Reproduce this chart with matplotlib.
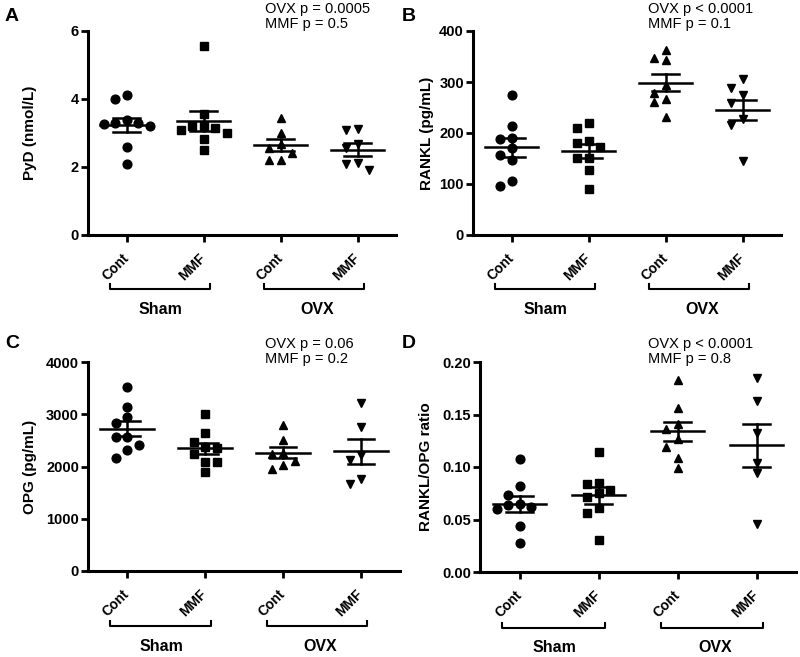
import numpy as np
import matplotlib
matplotlib.use("Agg")
import matplotlib.pyplot as plt
from matplotlib.transforms import blended_transform_factory

plt.rcParams['font.family'] = ['Liberation Sans', 'DejaVu Sans']

groups = ["Cont", "MMF", "Cont", "MMF"]
treatments = ["Sham", "OVX"]
markers = ["o", "s", "^", "v"]

pyd = [
    [4.12, 3.99, 3.38, 3.28, 3.28, 3.22, 3.25, 2.60, 2.09],
    [5.56, 3.56, 3.22, 3.20, 3.09, 2.99, 3.15, 2.82, 2.50],
    [3.43, 2.99, 2.68, 2.55, 2.42, 2.22, 2.22],
    [3.09, 3.11, 2.68, 2.55, 2.10, 1.92, 2.12],
]
rankl = [
    [274, 214, 190, 188, 171, 157, 148, 106, 97],
    [219, 209, 185, 180, 172, 150, 150, 127, 90],
    [363, 348, 344, 294, 279, 267, 261, 231],
    [305, 288, 275, 258, 227, 216, 146],
]
opg = [
    [3531, 3146, 2940, 2825, 2568, 2568, 2408, 2324, 2164],
    [2998, 2632, 2472, 2375, 2362, 2234, 2086, 2086, 1894],
    [2793, 2504, 2260, 2234, 2099, 2022, 1958],
    [3223, 2748, 2215, 2119, 1766, 1656],
]
ratio = [
    [0.1073, 0.0816, 0.0737, 0.0651, 0.0641, 0.0619, 0.0603, 0.0435, 0.0276],
    [0.1143, 0.0851, 0.0841, 0.0784, 0.0756, 0.0714, 0.0610, 0.0562, 0.0302],
    [0.1825, 0.1562, 0.1413, 0.1365, 0.1270, 0.1190, 0.1086, 0.0994],
    [0.185, 0.163, 0.132, 0.104, 0.094, 0.0454],
]

panels = [
    dict(letter="A", data=pyd, ylabel="PyD (nmol/L)", ylim=(0, 6), yticks=[0, 2, 4, 6],
         fmt="{:g}", stats=["OVX p = 0.0005", "MMF p = 0.5"]),
    dict(letter="B", data=rankl, ylabel="RANKL (pg/mL)", ylim=(0, 400), yticks=[0, 100, 200, 300, 400],
         fmt="{:g}", stats=["OVX p < 0.0001", "MMF p = 0.1"]),
    dict(letter="C", data=opg, ylabel="OPG (pg/mL)", ylim=(0, 4000), yticks=[0, 1000, 2000, 3000, 4000],
         fmt="{:g}", stats=["OVX p = 0.06", "MMF p = 0.2"]),
    dict(letter="D", data=ratio, ylabel="RANKL/OPG ratio", ylim=(0, 0.20),
         yticks=[0.00, 0.05, 0.10, 0.15, 0.20], fmt="{:.2f}", stats=["OVX p < 0.0001", "MMF p = 0.8"]),
]

W, H = 800, 657
fig = plt.figure(figsize=(W / 100, H / 100), dpi=100)

# axes rectangles in pixels: left, top, right, bottom
rects = [(88, 31, 396, 235), (473, 31, 781, 235), (88, 362, 400, 571), (480, 362, 796, 572)]
letter_pos = [(5, 8), (402, 8), (5, 335), (402, 335)]
stat_pos = [(265, 2), (648, 2), (265, 337), (648, 337)]
ylabel_x = [30, 427, 30, 426]


def swarm_offsets(vals, ax_h_px, ylim, unit_px, min_px=9.0, step_px=11.5):
    vals = np.asarray(vals, float)
    ypx = (vals - ylim[0]) / (ylim[1] - ylim[0]) * ax_h_px
    order = np.argsort(-vals)
    placed = []
    offs = np.zeros(len(vals))
    cands = [0, -1, 1, -2, 2, -3, 3]
    for i in order:
        for c in cands:
            x = c * step_px
            ok = all((x - px) ** 2 + (ypx[i] - py) ** 2 >= min_px ** 2 for px, py in placed)
            if ok:
                placed.append((x, ypx[i]))
                offs[i] = x / unit_px
                break
    return offs


for p, r, lp, sp, ylx in zip(panels, rects, letter_pos, stat_pos, ylabel_x):
    l, t, rr, b = r
    ax = fig.add_axes([l / W, 1 - b / H, (rr - l) / W, (b - t) / H])
    ax.set_xlim(-0.5, 3.5)
    ax.set_ylim(*p["ylim"])
    unit_px = (rr - l) / 4.0
    ax_h = b - t
    for i, vals in enumerate(p["data"]):
        offs = swarm_offsets(vals, ax_h, p["ylim"], unit_px)
        ax.plot(i + offs, vals, linestyle="none", marker=markers[i], color="black",
                markersize=6.3 if markers[i] != "s" else 5.8, clip_on=False, zorder=3)
        m = np.mean(vals)
        sem = np.std(vals, ddof=1) / np.sqrt(len(vals))
        ax.plot([i - 0.34, i + 0.34], [m, m], color="black", lw=1.8, zorder=4)
        ax.plot([i, i], [m - sem, m + sem], color="black", lw=1.8, zorder=4)
        for yv in (m - sem, m + sem):
            ax.plot([i - 0.17, i + 0.17], [yv, yv], color="black", lw=1.8, zorder=4)

    for s in ("top", "right"):
        ax.spines[s].set_visible(False)
    for s in ("left", "bottom"):
        ax.spines[s].set_linewidth(2.2)
    ax.set_yticks(p["yticks"])
    ax.set_yticklabels([p["fmt"].format(v) for v in p["yticks"]], fontweight="bold", fontsize=10.5)
    ax.set_xticks(range(4))
    ax.set_xticklabels(groups, rotation=45, ha="right", va="center", rotation_mode="anchor",
                       fontweight="bold", fontsize=10)
    ax.tick_params(axis="both", direction="out", length=5, width=2, pad=1.5)
    ax.tick_params(axis="x", pad=10)
    ax.set_ylabel(p["ylabel"], fontweight="bold", fontsize=11)
    ax.yaxis.set_label_coords((ylx - l) / (rr - l), 0.5)
    ax.yaxis.label.set_va("center")

    tr = blended_transform_factory(ax.transData, ax.transAxes)
    yb = -0.265
    ytk = yb + 5 / ax_h
    for k, (x0, x1, xl) in enumerate([(-0.22, 1.08, 0.44), (1.79, 3.08, 2.48)]):
        ax.plot([x0, x0, x1, x1], [ytk, yb, yb, ytk], color="black", lw=1.5,
                transform=tr, clip_on=False)
        ax.text(xl, yb - 20 / ax_h, treatments[k], transform=tr, ha="center", va="center",
                fontweight="bold", fontsize=11.5)

    fig.text(lp[0] / W, 1 - lp[1] / H, p["letter"], fontweight="bold", fontsize=14,
             ha="left", va="top")
    fig.text(sp[0] / W, 1 - sp[1] / H, p["stats"][0] + "\n" + p["stats"][1],
             fontsize=10.5, ha="left", va="top", linespacing=1.05)

fig.savefig("out.png", dpi=100)
